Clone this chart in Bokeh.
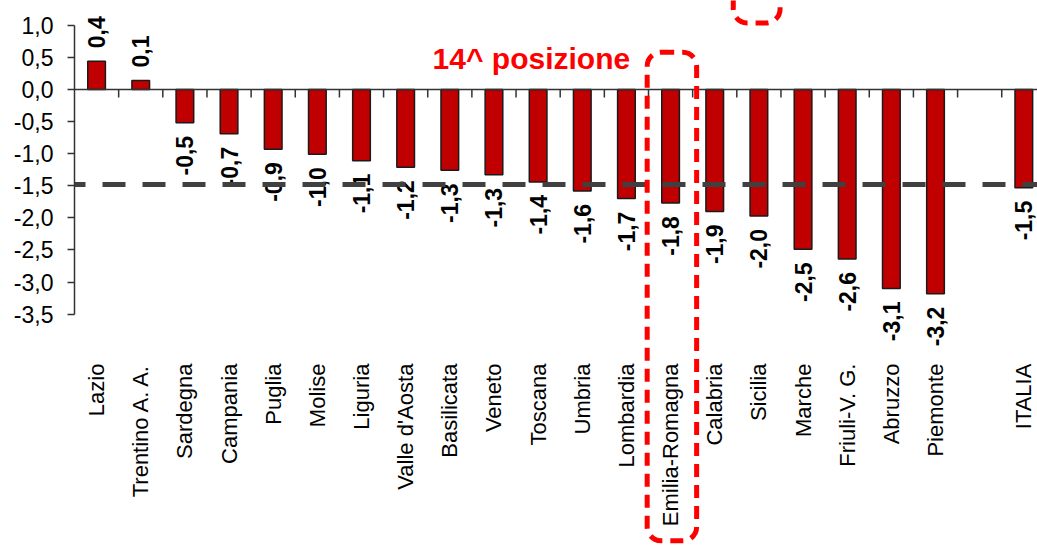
from math import pi

from bokeh.plotting import figure
from bokeh.models import (Range1d, Span, BoxAnnotation, Label, FixedTicker,
                          CustomJSTickFormatter, ColumnDataSource)
from bokeh.core.properties import value
from bokeh.embed import file_html
from bokeh.resources import INLINE

# ---------------- data ----------------
regions = ["Lazio", "Trentino A. A.", "Sardegna", "Campania", "Puglia", "Molise",
           "Liguria", "Valle d'Aosta", "Basilicata", "Veneto", "Toscana", "Umbria",
           "Lombardia", "Emilia-Romagna", "Calabria", "Sicilia", "Marche",
           "Friuli-V. G.", "Abruzzo", "Piemonte"]
region_values = [0.44, 0.14, -0.52, -0.69, -0.93, -1.01, -1.11, -1.21, -1.26, -1.33,
                 -1.44, -1.58, -1.70, -1.77, -1.90, -1.97, -2.49, -2.64, -3.10, -3.18]
total_label = "ITALIA"
total_value = -1.53
reference_line = -1.48
highlight = "Emilia-Romagna"
highlight_text = "14^ posizione"
y_ticks = [1.0, 0.5, 0.0, -0.5, -1.0, -1.5, -2.0, -2.5, -3.0, -3.5]

# ---------------- layout ----------------
W, H = 1037, 548
LEFT = 74
Y_MIN, Y_MAX = -7.15, 1.386
X_MAX = 21.81
PX = H / (Y_MAX - Y_MIN)          # pixels per unit on y
FONT = "Liberation Sans"

labels = regions + [total_label]
values = region_values + [total_value]
xs = [i + 0.5 for i in range(len(regions))] + [len(regions) + 1.5]
texts = [f"{v:.1f}".replace(".", ",") for v in values]

p = figure(width=W, height=H, x_range=Range1d(0, X_MAX), y_range=Range1d(Y_MIN, Y_MAX),
           output_backend="svg", toolbar_location=None, x_axis_location=None,
           min_border_left=LEFT, min_border_right=0, min_border_top=0, min_border_bottom=0)
p.outline_line_color = None
p.background_fill_color = "white"
p.grid.grid_line_color = None

ax = p.yaxis[0]
ax.bounds = (min(y_ticks), max(y_ticks))
ax.ticker = FixedTicker(ticks=y_ticks)
ax.formatter = CustomJSTickFormatter(code="return tick.toFixed(1).replace('.', ',');")
ax.major_label_text_font = FONT
ax.major_label_text_font_size = "23px"
ax.major_label_text_color = "#000000"
ax.major_label_standoff = 14
ax.major_tick_out = 7
ax.major_tick_in = 0
ax.minor_tick_out = 0
ax.minor_tick_in = 0
ax.axis_line_color = "#333333"
ax.axis_line_width = 1.5
ax.major_tick_line_color = "#333333"
ax.major_tick_line_width = 1.5

# bars
src = ColumnDataSource(dict(x=xs, top=values, label=labels, text=texts))
p.vbar(x="x", top="top", bottom=0, width=0.4, source=src,
       fill_color="#C00000", line_color="#1a1a1a", line_width=1.5)

# category boundary ticks on the zero line
bounds = list(range(1, len(regions) + 2))
p.segment(x0=bounds, y0=[0] * len(bounds), x1=bounds, y1=[-8 / PX] * len(bounds),
          line_color="#333333", line_width=1.5)

# category labels (rotated)
p.text(x=xs, y=[-4.27] * len(xs), text=labels, angle=pi / 2,
       text_align="right", text_baseline="middle",
       text_font=value(FONT), text_font_size=value("22px"), text_color="#000000")

# value labels
gap = 13 / PX
pos = [(x, v, t) for x, v, t in zip(xs, values, texts) if v >= 0]
neg = [(x, v, t) for x, v, t in zip(xs, values, texts) if v < 0]
p.text(x=[a[0] for a in pos], y=[a[1] + gap for a in pos], text=[a[2] for a in pos],
       angle=pi / 2, text_align="left", text_baseline="middle",
       text_font=value(FONT), text_font_style="bold", text_font_size=value("23px"),
       text_color="#000000")
p.text(x=[a[0] for a in neg], y=[a[1] - gap for a in neg], text=[a[2] for a in neg],
       angle=pi / 2, text_align="right", text_baseline="middle",
       text_font=value(FONT), text_font_style="bold", text_font_size=value("23px"),
       text_color="#000000")

# zero line
p.add_layout(Span(location=0, dimension="width", line_color="#333333", line_width=1.5))

# national reference dashed line
p.add_layout(Span(location=reference_line, dimension="width", line_color="#404040",
                  line_width=5, line_dash="23 17", line_dash_offset=12))

# highlight box around Emilia-Romagna
hi = regions.index(highlight)
p.add_layout(BoxAnnotation(left=hi - 0.03, right=hi + 1.09, top=0.58, bottom=-7.03,
                           fill_color=None, fill_alpha=0, line_color="#FF0000",
                           line_alpha=1.0, line_width=5, line_dash="13 8",
                           border_radius=14))
# partial box at the top (cropped)
p.add_layout(BoxAnnotation(left=14.92, right=15.98, top=2.5, bottom=1.036,
                           fill_color=None, fill_alpha=0, line_color="#FF0000",
                           line_alpha=1.0, line_width=5, line_dash="13 8",
                           border_radius=14))

p.add_layout(Label(x=8.11, y=0.483, text=highlight_text, text_font=FONT,
                   text_font_style="bold", text_font_size="30px", text_color="#FF0000",
                   text_align="left", text_baseline="alphabetic"))

open("out.html", "w").write(file_html(p, INLINE))
